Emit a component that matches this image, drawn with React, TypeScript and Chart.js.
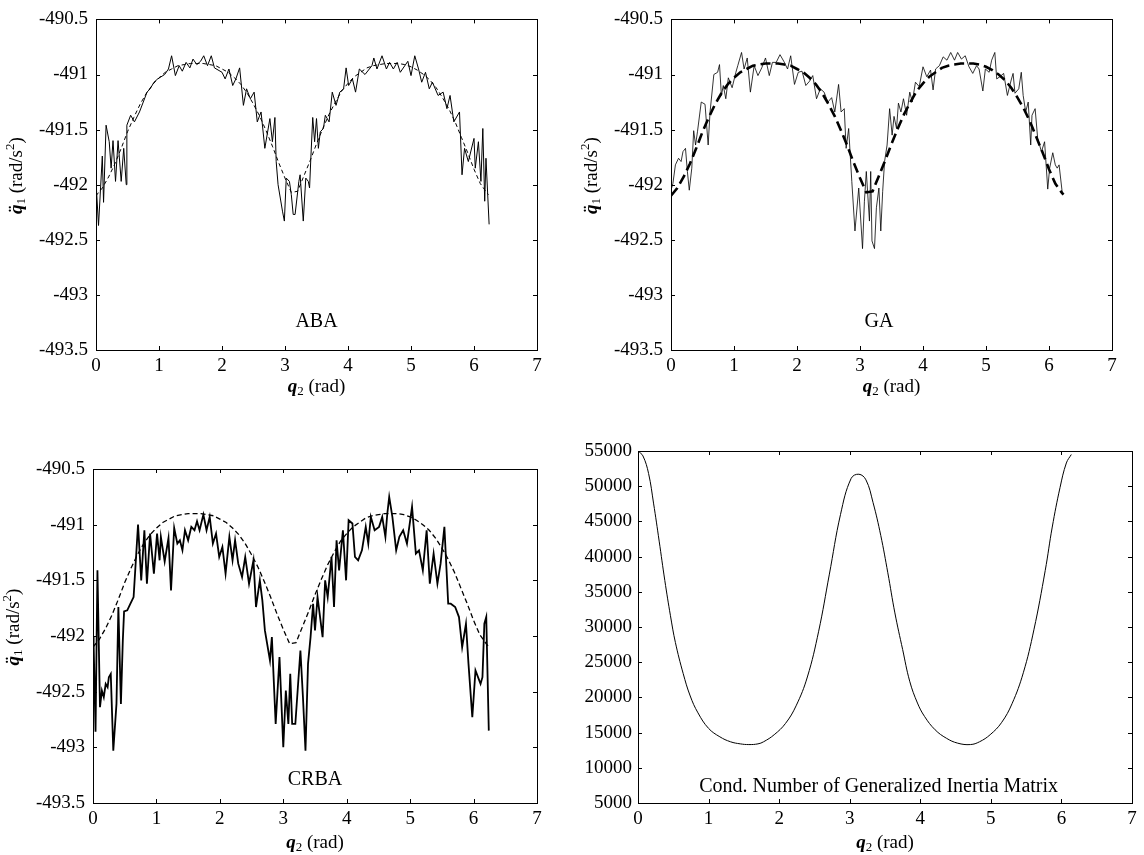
import React, { useEffect, useRef } from "react";
import { Chart, registerables } from "chart.js";
Chart.register(...registerables);

const SERIF = '"Liberation Serif", "Times New Roman", serif';
Chart.defaults.font.family = SERIF;

// ---------- tick labels ----------
const xTicks = [0, 1, 2, 3, 4, 5, 6, 7];
const qTicks = [-493.5, -493, -492.5, -492, -491.5, -491, -490.5];
const condTicks = [5000, 10000, 15000, 20000, 25000, 30000, 35000, 40000, 45000, 50000, 55000];

// ---------- exact (dashed) q1 acceleration ----------
const exactX = [0, 0.1, 0.2, 0.3, 0.4, 0.5, 0.6, 0.7, 0.8, 0.9, 1.0, 1.1, 1.2, 1.3, 1.4, 1.5, 1.6, 1.7, 1.8, 1.9, 2.0, 2.1, 2.2, 2.3, 2.4, 2.5, 2.6, 2.7, 2.8, 2.9, 3.0, 3.1, 3.2, 3.3, 3.4, 3.5, 3.6, 3.7, 3.8, 3.9, 4.0, 4.1, 4.2, 4.3, 4.4, 4.5, 4.6, 4.7, 4.8, 4.9, 5.0, 5.1, 5.2, 5.3, 5.4, 5.5, 5.6, 5.7, 5.8, 5.9, 6.0, 6.1, 6.2, 6.23];
const exactY = [-492.10, -492.03, -491.93, -491.81, -491.67, -491.52, -491.39, -491.27, -491.17, -491.09, -491.03, -490.98, -490.95, -490.92, -490.91, -490.90, -490.90, -490.90, -490.91, -490.92, -490.95, -490.98, -491.03, -491.09, -491.17, -491.27, -491.38, -491.51, -491.65, -491.80, -491.94, -492.07, -492.06, -491.92, -491.78, -491.63, -491.49, -491.36, -491.25, -491.15, -491.08, -491.02, -490.98, -490.94, -490.92, -490.91, -490.90, -490.90, -490.90, -490.91, -490.93, -490.96, -491.00, -491.05, -491.12, -491.21, -491.31, -491.43, -491.57, -491.71, -491.86, -491.99, -492.07, -492.09];

// ---------- ABA ----------
const abaX = [0.00, 0.04, 0.10, 0.12, 0.16, 0.21, 0.24, 0.27, 0.31, 0.35, 0.40, 0.44, 0.48, 0.49, 0.55, 0.61, 0.69, 0.75, 0.81, 0.86, 0.92, 0.98, 1.09, 1.15, 1.20, 1.26, 1.32, 1.37, 1.43, 1.49, 1.54, 1.60, 1.66, 1.71, 1.77, 1.83, 1.88, 2.00, 2.05, 2.11, 2.17, 2.22, 2.28, 2.34, 2.39, 2.45, 2.51, 2.56, 2.62, 2.68, 2.76, 2.80, 2.84, 2.86, 2.89, 2.96, 2.99, 3.02, 3.07, 3.10, 3.13, 3.16, 3.22, 3.24, 3.29, 3.33, 3.37, 3.39, 3.41, 3.44, 3.47, 3.50, 3.53, 3.56, 3.61, 3.64, 3.70, 3.75, 3.81, 3.87, 3.93, 3.97, 4.01, 4.07, 4.12, 4.18, 4.27, 4.38, 4.41, 4.46, 4.54, 4.61, 4.66, 4.72, 4.78, 4.83, 4.95, 5.00, 5.06, 5.12, 5.17, 5.23, 5.29, 5.34, 5.43, 5.51, 5.57, 5.62, 5.68, 5.77, 5.81, 5.85, 5.91, 6.00, 6.02, 6.07, 6.11, 6.14, 6.17, 6.19, 6.24];
const abaY = [-491.97, -492.37, -491.74, -492.16, -491.46, -491.61, -491.85, -491.60, -491.97, -491.60, -491.97, -491.67, -492.00, -491.46, -491.37, -491.43, -491.34, -491.25, -491.16, -491.13, -491.07, -491.04, -491.00, -490.95, -490.83, -491.01, -490.92, -490.97, -490.89, -490.94, -490.86, -490.91, -490.88, -490.83, -490.92, -490.83, -490.94, -490.98, -491.04, -490.95, -491.10, -491.04, -490.94, -491.28, -491.13, -491.22, -491.16, -491.43, -491.34, -491.67, -491.40, -491.61, -491.39, -491.79, -492.00, -492.24, -492.33, -491.94, -491.97, -492.09, -492.27, -492.27, -491.97, -491.91, -492.33, -491.94, -491.97, -492.03, -491.76, -491.39, -491.61, -491.40, -491.67, -491.52, -491.49, -491.37, -491.43, -491.16, -491.28, -491.16, -491.13, -490.94, -491.10, -491.04, -491.16, -490.95, -491.00, -490.92, -490.85, -490.95, -490.83, -490.95, -490.89, -490.95, -490.89, -490.98, -490.88, -491.01, -490.83, -490.95, -491.07, -490.98, -491.13, -491.07, -491.19, -491.16, -491.31, -491.19, -491.43, -491.34, -491.91, -491.67, -491.79, -491.58, -491.85, -491.61, -491.97, -491.49, -492.15, -491.76, -492.36];

// ---------- GA ----------
const gaX = [0.00, 0.03, 0.07, 0.12, 0.16, 0.19, 0.23, 0.26, 0.29, 0.33, 0.36, 0.39, 0.42, 0.48, 0.54, 0.59, 0.62, 0.68, 0.74, 0.77, 0.80, 0.83, 0.87, 0.91, 0.97, 1.03, 1.06, 1.12, 1.16, 1.21, 1.26, 1.32, 1.38, 1.44, 1.50, 1.56, 1.61, 1.67, 1.73, 1.79, 1.85, 1.90, 1.96, 2.02, 2.08, 2.14, 2.20, 2.25, 2.31, 2.37, 2.43, 2.49, 2.55, 2.60, 2.66, 2.70, 2.75, 2.78, 2.82, 2.87, 2.92, 2.98, 3.04, 3.07, 3.10, 3.15, 3.17, 3.19, 3.23, 3.26, 3.30, 3.33, 3.36, 3.39, 3.43, 3.47, 3.51, 3.54, 3.58, 3.61, 3.65, 3.69, 3.74, 3.79, 3.83, 3.88, 3.94, 4.00, 4.06, 4.12, 4.16, 4.20, 4.26, 4.32, 4.38, 4.44, 4.50, 4.55, 4.61, 4.67, 4.73, 4.79, 4.85, 4.89, 4.95, 4.99, 5.05, 5.09, 5.14, 5.17, 5.22, 5.28, 5.34, 5.40, 5.43, 5.46, 5.52, 5.56, 5.59, 5.63, 5.67, 5.71, 5.73, 5.78, 5.82, 5.88, 5.93, 5.98, 6.01, 6.06, 6.10, 6.13, 6.16, 6.21];
const gaY = [-492.05, -491.99, -491.82, -491.76, -491.79, -491.70, -491.67, -491.88, -492.05, -491.85, -491.51, -491.64, -491.52, -491.25, -491.27, -491.64, -491.34, -491.00, -490.98, -490.91, -491.19, -491.10, -491.22, -491.03, -491.12, -490.98, -490.92, -490.80, -490.95, -490.85, -491.16, -490.92, -491.01, -490.94, -490.85, -491.01, -490.89, -490.89, -490.82, -490.88, -490.95, -490.83, -491.09, -490.98, -490.97, -491.10, -491.06, -491.01, -491.22, -491.13, -491.16, -491.25, -491.21, -491.34, -491.09, -491.34, -491.31, -491.67, -491.49, -491.97, -492.42, -492.03, -492.58, -492.15, -491.88, -492.33, -491.88, -492.51, -492.58, -492.21, -492.03, -492.42, -492.06, -491.79, -491.64, -491.31, -491.55, -491.38, -491.49, -491.26, -491.34, -491.22, -491.37, -491.16, -491.25, -491.07, -491.11, -490.93, -491.02, -490.96, -491.14, -490.95, -490.92, -490.84, -490.87, -490.80, -490.87, -490.80, -490.86, -490.83, -490.93, -490.99, -490.92, -490.95, -491.15, -490.95, -490.98, -490.87, -490.80, -491.04, -491.02, -490.99, -491.19, -491.05, -490.99, -491.17, -491.13, -490.98, -491.19, -491.34, -491.25, -491.64, -491.37, -491.31, -491.58, -491.70, -491.61, -492.04, -491.85, -491.71, -491.82, -491.85, -491.82, -492.07];

// ---------- CRBA ----------
const crbaX = [0.00, 0.01, 0.04, 0.07, 0.11, 0.14, 0.17, 0.20, 0.23, 0.25, 0.28, 0.32, 0.37, 0.40, 0.44, 0.47, 0.49, 0.54, 0.59, 0.64, 0.71, 0.76, 0.81, 0.85, 0.90, 0.96, 1.01, 1.05, 1.07, 1.13, 1.19, 1.23, 1.28, 1.33, 1.37, 1.41, 1.45, 1.50, 1.55, 1.60, 1.64, 1.68, 1.74, 1.79, 1.84, 1.89, 1.94, 1.99, 2.04, 2.09, 2.15, 2.20, 2.24, 2.29, 2.35, 2.40, 2.46, 2.53, 2.57, 2.63, 2.67, 2.71, 2.79, 2.82, 2.88, 2.94, 3.00, 3.04, 3.08, 3.11, 3.14, 3.19, 3.27, 3.31, 3.35, 3.39, 3.43, 3.47, 3.50, 3.54, 3.62, 3.66, 3.70, 3.76, 3.80, 3.84, 3.88, 3.94, 3.99, 4.03, 4.09, 4.13, 4.18, 4.24, 4.30, 4.34, 4.38, 4.44, 4.51, 4.56, 4.61, 4.64, 4.67, 4.72, 4.78, 4.83, 4.89, 4.95, 5.03, 5.09, 5.14, 5.20, 5.26, 5.31, 5.37, 5.43, 5.48, 5.54, 5.60, 5.64, 5.71, 5.77, 5.82, 5.88, 5.92, 5.98, 6.03, 6.11, 6.14, 6.17, 6.20, 6.24];
const crbaY = [-492.00, -492.07, -492.86, -491.41, -492.64, -492.49, -492.55, -492.43, -492.46, -492.37, -492.34, -493.03, -492.61, -491.74, -492.61, -492.04, -491.78, -491.77, -491.71, -491.65, -491.00, -491.50, -491.05, -491.53, -491.08, -491.44, -491.08, -491.32, -491.11, -491.33, -491.12, -491.59, -491.03, -491.17, -491.14, -491.23, -491.05, -491.14, -491.02, -491.05, -490.97, -491.05, -490.91, -491.05, -490.93, -491.17, -491.08, -491.29, -491.20, -491.44, -491.11, -491.32, -491.14, -491.35, -491.47, -491.29, -491.53, -491.32, -491.74, -491.50, -491.68, -491.95, -492.22, -492.01, -492.79, -492.19, -493.00, -492.49, -492.79, -492.34, -492.79, -492.79, -492.13, -492.55, -493.03, -492.25, -492.01, -491.71, -491.95, -491.65, -492.01, -491.50, -491.65, -491.29, -491.74, -491.14, -491.41, -491.05, -491.50, -490.96, -490.99, -491.29, -491.32, -491.23, -491.02, -491.17, -490.93, -491.05, -491.02, -490.93, -491.11, -490.90, -490.75, -490.93, -491.23, -491.11, -491.05, -491.17, -490.84, -491.26, -491.23, -491.41, -491.05, -491.53, -491.26, -491.53, -491.35, -491.02, -491.71, -491.71, -491.74, -491.83, -492.10, -491.89, -492.25, -492.73, -492.31, -492.43, -492.37, -491.89, -491.83, -492.85];

// ---------- condition number ----------
const condX = [0.00, 0.07, 0.15, 0.22, 0.30, 0.38, 0.46, 0.53, 0.64, 0.74, 0.85, 1.00, 1.16, 1.31, 1.45, 1.57, 1.70, 1.78, 1.93, 2.09, 2.24, 2.40, 2.56, 2.71, 2.87, 3.02, 3.13, 3.23, 3.33, 3.44, 3.54, 3.64, 3.75, 3.85, 3.96, 4.06, 4.21, 4.37, 4.53, 4.71, 4.84, 4.99, 5.15, 5.30, 5.46, 5.61, 5.77, 5.87, 5.98, 6.07, 6.14];
const condY = [55000, 54300, 51800, 47600, 42200, 36600, 31600, 27800, 23400, 20200, 17800, 15600, 14400, 13700, 13400, 13300, 13400, 13700, 14700, 16300, 18800, 22900, 29400, 37400, 46000, 51100, 51700, 50900, 47700, 43000, 37700, 32000, 26800, 22300, 19200, 17300, 15400, 14200, 13500, 13300, 13700, 14700, 16400, 19100, 23500, 29600, 38000, 44200, 49800, 53300, 54500];

type Series = { xs: number[]; ys: number[]; width: number; dash?: number[]; smooth?: boolean };
type PanelProps = {
  left: number; top: number; w: number; h: number;
  pl: number; pt: number; pr: number; pb: number;
  yMin: number; yMax: number; yTicks: number[]; yPad: number;
  series: Series[];
  label: string; labelX: number; labelY: number;
  yTitle: boolean; xTitleGap: number; yTitleShift: number; yTitleGap: number;
};

type Part = { t: string; font: string; dy: number };

function drawParts(ctx: CanvasRenderingContext2D, parts: Part[], cx: number, cy: number) {
  let total = 0;
  for (const p of parts) { ctx.font = p.font; total += ctx.measureText(p.t).width; }
  let x = cx - total / 2;
  ctx.textAlign = "left";
  ctx.textBaseline = "alphabetic";
  for (const p of parts) {
    ctx.font = p.font;
    ctx.fillText(p.t, x, cy + p.dy);
    x += ctx.measureText(p.t).width;
  }
}

function Panel(p: PanelProps) {
  const ref = useRef<HTMLCanvasElement>(null);
  useEffect(() => {
    const cv = ref.current!;
    const decor = {
      id: "decor",
      afterDraw(chart: any) {
        const ctx: CanvasRenderingContext2D = chart.ctx;
        const a = chart.chartArea;
        const xs = chart.scales.x;
        const ys = chart.scales.y;
        ctx.save();
        ctx.strokeStyle = "#000";
        ctx.fillStyle = "#000";
        ctx.lineWidth = 1;
        ctx.strokeRect(Math.round(a.left) + 0.5, Math.round(a.top) + 0.5, Math.round(a.right - a.left), Math.round(a.bottom - a.top));
        const tl = 4;
        ctx.beginPath();
        for (const v of xTicks) {
          const px = Math.round(xs.getPixelForValue(v)) + 0.5;
          ctx.moveTo(px, a.bottom); ctx.lineTo(px, a.bottom - tl);
          ctx.moveTo(px, a.top); ctx.lineTo(px, a.top + tl);
        }
        for (const v of p.yTicks) {
          const py = Math.round(ys.getPixelForValue(v)) + 0.5;
          ctx.moveTo(a.left, py); ctx.lineTo(a.left + tl, py);
          ctx.moveTo(a.right, py); ctx.lineTo(a.right - tl, py);
        }
        ctx.stroke();
        // inner label
        ctx.font = `20px ${SERIF}`;
        ctx.textAlign = "center";
        ctx.textBaseline = "middle";
        ctx.fillText(p.label, xs.getPixelForValue(p.labelX), ys.getPixelForValue(p.labelY));
        // x title
        const qf = `italic bold 19px ${SERIF}`;
        const rf = `19px ${SERIF}`;
        const sf = `13px ${SERIF}`;
        drawParts(ctx, [
          { t: "q", font: qf, dy: 0 },
          { t: "2", font: sf, dy: 3 },
          { t: " (rad)", font: rf, dy: 0 },
        ], (a.left + a.right) / 2, a.bottom + p.xTitleGap);
        // y title
        if (p.yTitle) {
          ctx.save();
          ctx.translate(a.left - p.yTitleGap, (a.top + a.bottom) / 2 + p.yTitleShift);
          ctx.rotate(-Math.PI / 2);
          drawParts(ctx, [
            { t: "q\u0308", font: qf, dy: 0 },
            { t: "1", font: sf, dy: 3 },
            { t: " (rad/s", font: rf, dy: 0 },
            { t: "2", font: sf, dy: -8 },
            { t: ")", font: rf, dy: 0 },
          ], 0, 0);
          ctx.restore();
        }
        ctx.restore();
      },
    };
    const chart = new Chart(cv, {
      type: "line",
      data: {
        datasets: p.series.map((s) => ({
          data: s.xs.map((x, i) => ({ x, y: s.ys[i] })),
          borderColor: "#000",
          borderWidth: s.width,
          borderDash: s.dash || [],
          pointRadius: 0,
          fill: false,
          tension: s.smooth ? 0.4 : 0,
        })) as any,
      },
      options: {
        responsive: false,
        animation: false,
        devicePixelRatio: 1,
        events: [],
        layout: { padding: { left: 0, top: p.pt, right: p.w - p.pr, bottom: 0 } },
        plugins: { legend: { display: false }, tooltip: { enabled: false }, title: { display: false } },
        scales: {
          x: {
            type: "linear",
            min: 0,
            max: 7,
            afterBuildTicks: (s: any) => { s.ticks = xTicks.map((v) => ({ value: v })); },
            afterFit: (s: any) => { s.height = p.h - p.pb; },
            ticks: { color: "#000", font: { family: SERIF, size: 19 }, padding: 5, maxRotation: 0, autoSkip: false, callback: (v: any) => String(v) },
            grid: { display: false, drawTicks: false },
            border: { display: false },
          },
          y: {
            type: "linear",
            min: p.yMin,
            max: p.yMax,
            afterBuildTicks: (s: any) => { s.ticks = p.yTicks.map((v) => ({ value: v })); },
            afterFit: (s: any) => { s.width = p.pl; },
            ticks: { color: "#000", font: { family: SERIF, size: 19 }, padding: p.yPad, autoSkip: false, callback: (v: any) => String(v) },
            grid: { display: false, drawTicks: false },
            border: { display: false },
          },
        },
      } as any,
      plugins: [decor],
    });
    return () => chart.destroy();
  }, []);
  return (
    <canvas
      ref={ref}
      width={p.w}
      height={p.h}
      style={{ position: "absolute", left: p.left, top: p.top, width: p.w, height: p.h }}
    />
  );
}

export default function App() {
  const exactThin: Series = { xs: exactX, ys: exactY, width: 1, dash: [4, 3] };
  return (
    <div style={{ position: "absolute", left: 0, top: 0, width: 1144, height: 855, background: "#fff", overflow: "hidden" }}>
      <Panel left={0} top={0} w={572} h={420} pl={96} pt={17} pr={537} pb={350}
        yMin={-493.5} yMax={-490.5} yTicks={qTicks} yPad={8}
        series={[exactThin, { xs: abaX, ys: abaY, width: 1 }]}
        label="ABA" labelX={3.5} labelY={-493.24}
        yTitle={true} xTitleGap={42} yTitleShift={-9} yTitleGap={74} />
      <Panel left={572} top={0} w={572} h={420} pl={99} pt={17} pr={540} pb={350}
        yMin={-493.5} yMax={-490.5} yTicks={qTicks} yPad={8}
        series={[{ xs: exactX, ys: exactY, width: 2.6, dash: [10, 5] }, { xs: gaX, ys: gaY, width: 0.8 }]}
        label="GA" labelX={3.3} labelY={-493.24}
        yTitle={true} xTitleGap={42} yTitleShift={-9} yTitleGap={74} />
      <Panel left={0} top={430} w={572} h={425} pl={93} pt={39} pr={537} pb={373}
        yMin={-493.5} yMax={-490.5} yTicks={qTicks} yPad={8}
        series={[{ xs: exactX, ys: exactY, width: 1.3, dash: [5, 3] }, { xs: crbaX, ys: crbaY, width: 1.8 }]}
        label="CRBA" labelX={3.5} labelY={-493.29}
        yTitle={true} xTitleGap={45} yTitleShift={-9} yTitleGap={74} />
      <Panel left={572} top={430} w={572} h={425} pl={66} pt={21} pr={560} pb={373}
        yMin={5000} yMax={55000} yTicks={condTicks} yPad={6}
        series={[{ xs: condX, ys: condY, width: 1, smooth: true }]}
        label="Cond. Number of Generalized Inertia Matrix" labelX={3.41} labelY={7270}
        yTitle={false} xTitleGap={45} yTitleShift={0} yTitleGap={0} />
    </div>
  );
}
